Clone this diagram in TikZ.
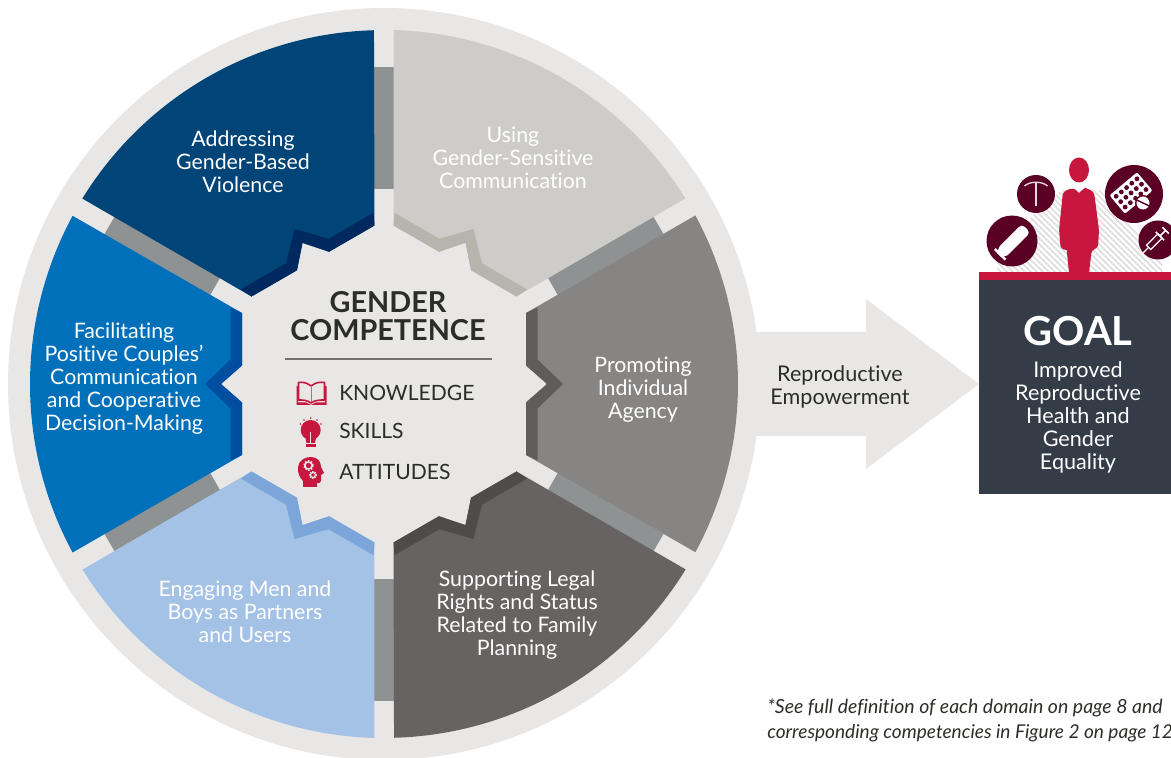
\documentclass[tikz,border=0pt]{standalone}
\usepackage{fontspec}
\setmainfont{Lato}[Ligatures=NoCommon]
\definecolor{ringc}{HTML}{E8E7E5}
\definecolor{spoke}{HTML}{8E9292}
\definecolor{redc}{HTML}{C8173F}
\definecolor{wine}{HTML}{5A0024}
\definecolor{slatec}{HTML}{333C47}
\definecolor{inkc}{HTML}{2B2E28}
\definecolor{hatchc}{HTML}{DEDDDB}
\definecolor{sA}{HTML}{0170BA}\definecolor{bA}{HTML}{004EA0}
\definecolor{sB}{HTML}{004478}\definecolor{bB}{HTML}{00295F}
\definecolor{sC}{HTML}{CDCCC8}\definecolor{bC}{HTML}{B7B4AE}
\definecolor{sD}{HTML}{868583}\definecolor{bD}{HTML}{5F5C5A}
\definecolor{sE}{HTML}{676362}\definecolor{bE}{HTML}{4F4B4A}
\definecolor{sF}{HTML}{A4C2E6}\definecolor{bF}{HTML}{7CA5DA}
\newcommand\sectorshape[3]{%
  \begin{scope}[x=0.75pt,y=0.75pt,shift={(288pt,-288pt)},rotate=#1]
    \fill[#2] (-311.4,168.2) arc[start angle=151.6,end angle=208.4,radius=354]
      -- (-142,-71) -- (-142,-18.5) -- (-163,0) -- (-142,18.5) -- (-142,71) -- cycle;
    \fill[#3] (-142,-71) -- (-142,-18.5) -- (-163,0) -- (-142,18.5) -- (-142,71)
      -- (-153.5,76.5) -- (-153.5,24.5) -- (-179,0) -- (-153.5,-24.5) -- (-153.5,-76.5) -- cycle;
  \end{scope}}
\tikzset{
  sectortext/.style={align=center,text=white,inner sep=0pt,font=\fontsize{16}{17.25}\selectfont},
  itemtext/.style={anchor=west,text=inkc,inner sep=0pt,font=\fontsize{15.8}{17}\selectfont},
  headtext/.style={align=center,text=inkc,inner sep=0pt,font=\fontsize{21.6}{21}\selectfont\bfseries},
  notetext/.style={anchor=west,text=inkc,inner sep=0pt,font=\fontsize{14.6}{15}\selectfont\itshape},
  discicon/.style={fill=wine},
  whiteicon/.style={fill=white},
}
\begin{document}
\begin{tikzpicture}[x=0.75pt,y=-0.75pt,shift={(0pt,567.75pt)}]
\useasboundingbox (0,0) rectangle (1171,757);
\begin{scope}
\clip (0,0) rectangle (1171,757);
% arrow and disc
\fill[ringc] (700,332) -- (866,332) -- (866,299) -- (979,384) -- (866,469) -- (866,436) -- (700,436) -- cycle;
\fill[ringc] (384,384) circle[radius=376];
\foreach \a in {0,60,...,300}{
  \begin{scope}[shift={(384,384)},rotate=\a]
    \fill[spoke] (-10,-317) rectangle (10,-195);
  \end{scope}}
\sectorshape{0}{sA}{bA}
\sectorshape{-60}{sB}{bB}
\sectorshape{-120}{sC}{bC}
\sectorshape{180}{sD}{bD}
\sectorshape{120}{sE}{bE}
\sectorshape{60}{sF}{bF}
% sector labels
\node[sectortext] (addr) at (243,162) {Addressing\\Gender-Based\\Violence};
\node[sectortext] (using) at (513,158) {Using\\Gender-Sensitive\\Communication};
\node[sectortext] (prom) at (643,389.5) {Promoting\\Individual\\Agency};
\node[sectortext] (supp) at (517,615) {Supporting Legal\\Rights and Status\\Related to Family\\Planning};
\node[sectortext] (engage) at (245,612) {Engaging Men and\\Boys as Partners\\and Users};
\node[sectortext] (facil) at (124,379) {Facilitating\\Positive Couples’\\Communication\\and Cooperative\\Decision-Making};
% centre
\node[headtext] (gc) at (388,316) {GENDER\\COMPETENCE};
\draw[draw=black!55,line width=0.9pt] (285,359) -- (492,359);
\node[itemtext] (know) at (339,393) {KNOWLEDGE};
\node[itemtext] (skills) at (339,431) {SKILLS};
\node[itemtext] (att) at (339,472) {ATTITUDES};
% book
\draw[redc,line width=1.2pt,line join=round,fill=ringc]
  (311,386) .. controls (306,382) and (302,382) .. (298.5,382.5) -- (298.5,400) .. controls (303,400) and (307,400) .. (311,403)
  .. controls (315,400) and (320,400) .. (324.5,400) -- (324.5,382.5) .. controls (320,382) and (316,382) .. (311,386) -- cycle;
\fill[redc] (296.5,386) -- (298,386) -- (298,402.5) -- (306,402.5) -- (311,405) -- (316,402.5) -- (325,402.5) -- (325,386) -- (326.5,386) -- (326.5,405) -- (296.5,405) -- cycle;
\draw[redc!70,line width=0.7pt] (311,387) -- (311,402);
% bulb
\fill[redc] (310.7,430) circle[radius=10];
\fill[redc] (305,435) -- (316.5,435) -- (315,443) -- (306.5,443) -- cycle;
\fill[redc] (305.5,444) rectangle (316,447.5);
\draw[ringc,line width=1pt] (310.7,432) -- (310.7,443);
\foreach \p in {(300.5,424),(304,420),(310.7,418),(317,420),(321,424)}{\fill[redc] \p circle[radius=0.8];}
% head
\fill[redc] (303,487) -- (303,481) .. controls (299,477) and (297.5,472) .. (298,467)
  .. controls (299,460) and (305,457) .. (311,457) .. controls (318,457) and (321,462) .. (321,467)
  -- (324,473) -- (321,475) -- (321,481) .. controls (321,483) and (319,483) .. (317,483) -- (317,487) -- cycle;
\draw[ringc,line width=1.1pt] (308.5,465.5) circle[radius=3.6];
\draw[ringc,line width=1.2pt,dash pattern=on 1.1pt off 1.1pt] (308.5,465.5) circle[radius=4.6];
\draw[ringc,line width=0.9pt] (313,475) circle[radius=2.5];
\draw[ringc,line width=1pt,dash pattern=on 0.9pt off 0.9pt] (313,475) circle[radius=3.3];
% big arrow text
\node[sectortext,text=inkc,font=\fontsize{16.2}{17.25}\selectfont] (repro) at (840,387) {Reproductive\\Empowerment};
% hatch
\begin{scope}
  \clip (997,272) -- (997,262) -- (1035,212) -- (1062,190) -- (1100,190) -- (1162,258) -- (1162,272) -- cycle;
  \foreach \k in {0,6,...,270}{\draw[hatchc,line width=1.1pt] (\k+985,280) -- (\k+895,190);}
\end{scope}
% discs
\fill[discicon] (1012,241) circle[radius=25.5];
\fill[discicon] (1036,194) circle[radius=19];
\fill[discicon] (1134,194) circle[radius=29];
\fill[discicon] (1158,240) circle[radius=19.5];
% IUD
\draw[white!85!wine,line width=1.2pt] (1036,182) -- (1036,206);
\draw[white!85!wine,line width=1pt] (1024.5,186) .. controls (1030,181) and (1042,181) .. (1047.5,186);
% condom
\begin{scope}[rotate around={45:(1012,241)}]
  \fill[whiteicon,rounded corners=3pt] (996,236) rectangle (1031,248);
  \fill[whiteicon] (993,239) -- (999,236) -- (999,248) -- (993,245) -- cycle;
  \fill[whiteicon] (993,234.5) rectangle (995.5,249.5);
\end{scope}
% pill pack
\begin{scope}[rotate around={40:(1131,193)}]
  \fill[whiteicon,rounded corners=1.5pt] (1113,181) rectangle (1149,205);
  \foreach \i in {0,1,2,3,4}{\foreach \j in {0,1,2}{
    \fill[discicon] (1117.5+\i*6.8,186+\j*7) circle[radius=2.4];}}
\end{scope}
\fill[wine] (1143,203) circle[radius=8];
\begin{scope}[rotate around={-25:(1143,203)}]
  \fill[whiteicon] (1143,203) circle[radius=6.5];
  \fill[wine] (1136,202.3) rectangle (1150,203.7);
\end{scope}
% syringe
\begin{scope}[rotate around={45:(1155,241)}]
  \draw[white,line width=1pt,fill=wine] (1146,238) rectangle (1162,244);
  \draw[white,line width=1pt] (1146,241) -- (1136,241);
  \draw[white,line width=1.2pt] (1162,241) -- (1170,241);
  \draw[white,line width=1.2pt] (1170,236.5) -- (1170,245.5);
  \draw[white,line width=1pt] (1162,235) -- (1162,247);
\end{scope}
% person
\fill[redc] (1079,170) ellipse[x radius=10,y radius=12.5];
\fill[redc,rounded corners=2.5pt] (1073.3,187.7) [sharp corners] -- (1079,193) -- (1085,187.7) [rounded corners=2.5pt] -- (1094,191.7)
  -- (1099,230) -- (1098,248) -- (1091.7,250) [sharp corners] -- (1089,273) -- (1069,273) -- (1066.7,250) [rounded corners=2.5pt]
  -- (1060.7,249) -- (1059,230) -- (1063,191.7) -- cycle;
% goal
\fill[redc] (979,272) rectangle (1171,280);
\fill[slatec] (979,280) rectangle (1171,494);
\node[text=white,inner sep=0pt,font=\fontsize{30}{32}\selectfont\bfseries] (goal) at (1078,331) {GOAL};
\node[sectortext,font=\fontsize{16.2}{17.4}\selectfont] (goaltext) at (1078,417.5) {Improved\\Reproductive\\Health and\\Gender\\Equality};
% footnote
\node[notetext] (note1) at (767,708) {*See full definition of each domain on page 8 and};
\node[notetext,font=\fontsize{14.3}{15}\selectfont\itshape] (note2) at (767,733) {corresponding competencies in Figure 2 on page 12};
\end{scope}
\end{tikzpicture}
\end{document}
